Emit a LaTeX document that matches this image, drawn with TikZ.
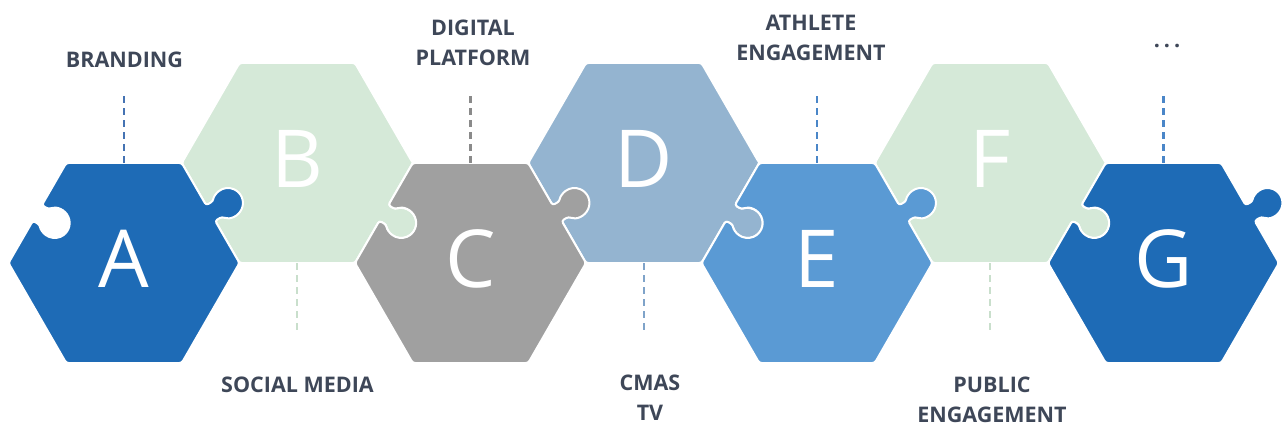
\documentclass[tikz,border=0pt]{standalone}
\usepackage{fontspec}
\setmainfont{Open Sans}
\usetikzlibrary{calc}
\definecolor{cA}{HTML}{1E6BB6}
\definecolor{cB}{HTML}{D5E9D8}
\definecolor{cC}{HTML}{A0A0A0}
\definecolor{cD}{HTML}{94B4D0}
\definecolor{cE}{HTML}{5A9AD4}
\definecolor{labc}{HTML}{3E4758}
\definecolor{dA}{HTML}{4573B3}
\definecolor{dB}{HTML}{C9DFCC}
\definecolor{dC}{HTML}{8A8A8A}
\definecolor{dD}{HTML}{7FA3C9}
\definecolor{dE}{HTML}{4A86C8}
\def\R{115.5}
\def\H{100.03}
\def\N{9}
\def\Rr{15}
\def\V{7.99}
\def\Al{36.87}
\newcommand\pzTab[1]{%
 -- ({\H*cos(#1+30)+\N*cos(#1-60)},{\H*sin(#1+30)+\N*sin(#1-60)})
 -- ({(\H+\V)*cos(#1+30)+\N*cos(#1-60)},{(\H+\V)*sin(#1+30)+\N*sin(#1-60)})
 arc[start angle={#1+30-180+\Al}, end angle={#1+30+180-\Al}, radius=\Rr]
 -- ({\H*cos(#1+30)+\N*cos(#1+120)},{\H*sin(#1+30)+\N*sin(#1+120)})
 -- ({#1+60}:\R)}
\newcommand\pzNotch[1]{%
 -- ({\H*cos(#1+30)+\N*cos(#1-60)},{\H*sin(#1+30)+\N*sin(#1-60)})
 -- ({(\H-\V)*cos(#1+30)+\N*cos(#1-60)},{(\H-\V)*sin(#1+30)+\N*sin(#1-60)})
 arc[start angle={#1+30-\Al}, end angle={#1+30+\Al-360}, radius=\Rr]
 -- ({\H*cos(#1+30)+\N*cos(#1+120)},{\H*sin(#1+30)+\N*sin(#1+120)})
 -- ({#1+60}:\R)}
\newcommand\pzTop[2]{\path[piece, fill=#2, shift={(#1)}] (0:\R) -- (60:\R) -- (120:\R) -- (180:\R) -- (240:\R) -- (300:\R) \pzTab{300} -- cycle;}
\newcommand\pzBottom[2]{\path[piece, fill=#2, shift={(#1)}] (0:\R) \pzTab{0} -- (120:\R) \pzNotch{120} -- (240:\R) -- (300:\R) -- cycle;}
\begin{document}
\begin{tikzpicture}[x=1pt,y=1pt,
  piece/.style={draw=white, line width=2, line join=round, rounded corners=2.5},
  bigl/.style={anchor=base, text=white, font=\fontsize{80}{80}\selectfont, inner sep=0},
  lab/.style={text=labc, font=\fontsize{21.5}{30}\selectfont\bfseries, align=center, inner sep=0, anchor=base},
  dsh/.style={line width=2.4, dash pattern=on 7pt off 5pt}]
\useasboundingbox (0,0) rectangle (1283,429);
\fill[white] (0,0) rectangle (1283,429);
\coordinate (A) at (124,166);
\coordinate (B) at (297.25,266);
\coordinate (C) at (470.5,166);
\coordinate (D) at (643.75,266);
\coordinate (E) at (817,166);
\coordinate (F) at (990.25,266);
\coordinate (G) at (1163.5,166);
% top row
\pzTop{B}{cB}
\pzTop{D}{cD}
\pzTop{F}{cB}
% bottom row
\pzBottom{A}{cA}
\pzBottom{C}{cC}
\pzBottom{E}{cE}
\pzBottom{G}{cA}
% letters
\foreach \p in {A,B,C,D,E,F,G}{\node[bigl] (l\p) at ($(\p)+(0,-24.5)$) {\p};}
% dashed connectors
\foreach \p/\c in {A/dA,C/dC,E/dE,G/dE}{
  \coordinate (\p-t) at ($(\p)+(0,\H)$);
  \coordinate (\p-e) at ($(\p)+(0,171)$);
  \draw[dsh, draw=\c] (\p-t) -- (\p-e);}
\foreach \p/\c in {B/dB,D/dD,F/dB}{
  \coordinate (\p-t) at ($(\p)-(0,\H)$);
  \coordinate (\p-e) at ($(\p)-(0,169)$);
  \draw[dsh, draw=\c] (\p-t) -- (\p-e);}
% labels
\node[lab] (tA) at (124.5,361) {BRANDING};
\node[lab] (tC) at (473,363) {DIGITAL\\PLATFORM};
\node[lab] (tE) at (811,368) {ATHLETE\\ENGAGEMENT};
\node[lab] (tG) at (1167,381) {.\hspace{4pt}.\hspace{4pt}.};
\node[lab] (tB) at (297.5,37) {SOCIAL MEDIA};
\node[lab] (tD) at (650,9) {CMAS\\TV};
\node[lab] (tF) at (992,7) {PUBLIC\\ENGAGEMENT};
\end{tikzpicture}
\end{document}
